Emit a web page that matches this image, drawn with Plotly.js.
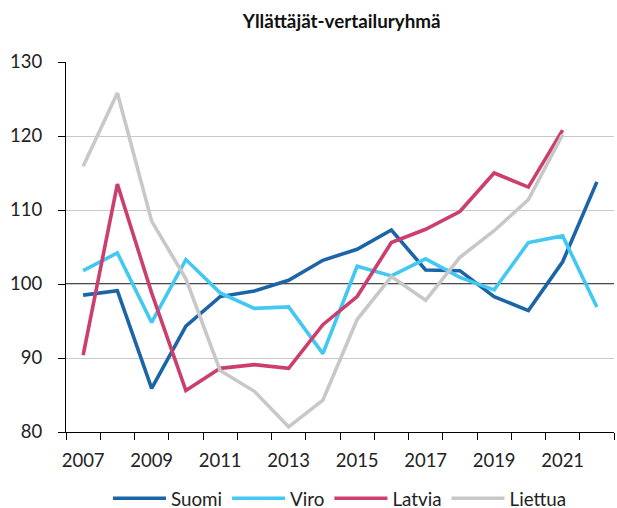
<!DOCTYPE html>
<html>
<head>
<meta charset="utf-8">
<script src="https://cdn.plot.ly/plotly-3.0.1.min.js"></script>
<style>html,body{margin:0;padding:0;background:#fff;}#chart{width:617px;height:508px;}</style>
</head>
<body>
<div id="chart"></div>
<script>
const years = [2007,2008,2009,2010,2011,2012,2013,2014,2015,2016,2017,2018,2019,2020,2021,2022];
const tickYears = [2007,2009,2011,2013,2015,2017,2019,2021];
const suomi   = [98.5,99.1,85.9,94.3,98.3,99.05,100.5,103.2,104.7,107.3,101.9,101.8,98.3,96.4,103.0,113.8];
const viro    = [101.8,104.2,94.8,103.3,98.8,96.7,96.9,90.6,102.4,101.1,103.4,100.9,99.2,105.6,106.5,96.9];
const latvia  = [90.4,113.5,98.8,85.6,88.6,89.1,88.6,94.5,98.3,105.6,107.4,109.8,115.0,113.1,120.8];
const liettua = [115.9,125.8,108.5,100.7,88.3,85.5,80.7,84.3,95.2,101.0,97.8,103.6,107.2,111.4,120.2];

const names = ['Suomi','Viro','Latvia','Liettua'];
const colors = ['#1c64a8','#42c8f2','#cc3e6f','#c8c8c8'];
const series = [suomi, viro, latvia, liettua];

const data = series.map((s,i)=>({
  type:'scatter', mode:'lines', name:names[i],
  x: years.slice(0,s.length), y: s,
  line:{color:colors[i], width:3.6}
}));

const layout = {
  width:617, height:508,
  margin:{l:66, r:3, t:62, b:76, autoexpand:false},
  paper_bgcolor:'#fff', plot_bgcolor:'#fff',
  font:{family:'Lato, sans-serif', size:18.5, color:'#222'},
  title:{text:'<b>Yllättäjät-vertailuryhmä</b>', font:{size:18.8, color:'#111'}, x:0.503, xref:'paper', xanchor:'center', y:0.957, yref:'container', yanchor:'middle'},
  showlegend:true,
  legend:{orientation:'h', x:0.5, xanchor:'center', y:-0.18, yanchor:'middle', font:{size:18.8}, itemwidth:53},
  xaxis:{
    range:[2006.5,2022.5], tickmode:'array', tickvals:tickYears, ticktext:tickYears.map(String),
    ticks:'', showgrid:false, zeroline:false, showline:true, linecolor:'#000', linewidth:1,
    minor:{ticks:'outside', ticklen:7, tickcolor:'#000', tick0:2006.5, dtick:1, showgrid:false},
    ticklabelstandoff:12, fixedrange:true
  },
  yaxis:{
    range:[80,130], dtick:10, tick0:80, ticks:'outside', ticklen:7, tickcolor:'#000',
    showgrid:true, gridcolor:'#c9c9c9', gridwidth:1, zeroline:false,
    showline:true, linecolor:'#000', linewidth:1, ticklabelstandoff:12, fixedrange:true
  },
  shapes:[{type:'line', xref:'paper', x0:0, x1:1, yref:'y', y0:100, y1:100, line:{color:'#111', width:1.6}, layer:'between'}]
};

Plotly.newPlot('chart', data, layout, {displayModeBar:false, staticPlot:true});
</script>
</body>
</html>
